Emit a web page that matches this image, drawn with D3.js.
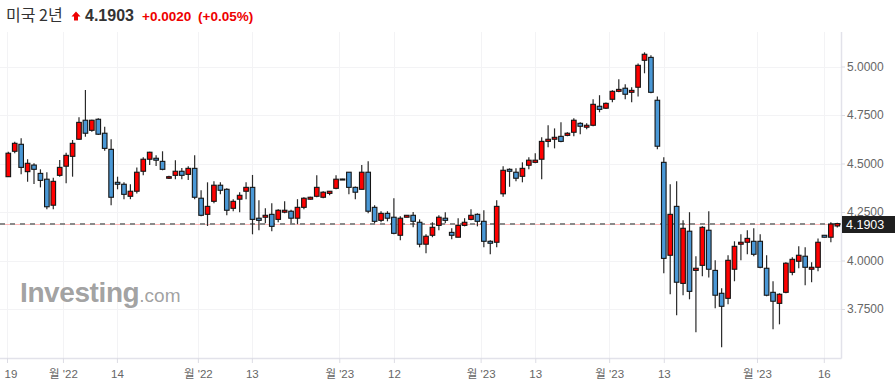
<!DOCTYPE html>
<html>
<head>
<meta charset="utf-8">
<script src="https://cdn.jsdelivr.net/npm/d3@7/dist/d3.min.js"></script>
<style>
  html, body { margin: 0; padding: 0; background: #fff; }
  svg { display: block; }
</style>
</head>
<body>
<div id="chart"></div>
<script>
// ---- data ----
const title = "미국 2년";
const lastPrice = 4.1903;
const changeText = "+0.0020";
const changePctText = "(+0.05%)";

const open = [4.432,4.563,4.599,4.458,4.492,4.449,4.419,4.285,4.439,4.486,
4.537,4.625,4.723,4.671,4.728,4.656,4.573,4.403,4.393,4.331,
4.357,4.460,4.522,4.527,4.511,4.424,4.439,4.460,4.444,4.475,
4.321,4.238,4.305,4.388,4.367,4.269,4.316,4.357,4.377,4.218,
4.223,4.238,4.212,4.249,4.254,4.218,4.274,4.316,4.331,4.326,
4.346,4.372,4.418,4.455,4.377,4.367,4.455,4.274,4.207,4.243,
4.223,4.130,4.223,4.233,4.197,4.084,4.130,4.181,4.218,4.145,
4.120,4.181,4.212,4.238,4.202,4.099,4.094,4.344,4.470,4.455,
4.434,4.491,4.506,4.522,4.614,4.625,4.640,4.645,4.661,4.707,
4.687,4.697,4.795,4.785,4.831,4.872,4.888,4.867,4.893,5.032,
5.047,4.826,4.506,4.027,4.279,3.882,4.151,3.949,3.975,4.156,
3.949,3.831,3.805,3.955,4.084,4.094,4.099,4.099,3.960,3.836,
3.779,3.836,3.939,3.996,4.022,3.955,3.965,4.130,4.120,4.178];

const high = [4.561,4.612,4.630,4.522,4.501,4.470,4.455,4.427,4.518,4.556,
4.621,4.738,4.879,4.726,4.733,4.690,4.625,4.432,4.403,4.393,
4.480,4.532,4.561,4.542,4.563,4.437,4.517,4.477,4.486,4.542,
4.362,4.403,4.408,4.403,4.372,4.316,4.352,4.403,4.441,4.310,
4.269,4.295,4.264,4.305,4.262,4.316,4.326,4.328,4.439,4.357,
4.358,4.439,4.421,4.455,4.382,4.492,4.511,4.285,4.254,4.254,
4.321,4.228,4.233,4.250,4.212,4.135,4.197,4.233,4.249,4.166,
4.218,4.218,4.264,4.243,4.259,4.104,4.310,4.486,4.475,4.475,
4.506,4.532,4.553,4.635,4.697,4.681,4.712,4.661,4.733,4.712,
4.707,4.831,4.852,4.814,4.877,4.934,4.908,4.893,5.016,5.073,
5.058,4.846,4.532,4.393,4.408,4.207,4.249,4.022,4.176,4.254,
4.001,3.857,4.027,4.099,4.135,4.156,4.166,4.135,4.027,3.893,
3.831,3.991,4.017,4.073,4.068,3.991,4.114,4.131,4.197,4.195];

const low = [4.430,4.553,4.444,4.406,4.394,4.377,4.264,4.264,4.432,4.398,
4.432,4.622,4.638,4.664,4.647,4.566,4.285,4.367,4.316,4.316,
4.346,4.439,4.492,4.487,4.465,4.420,4.419,4.419,4.415,4.316,
4.228,4.178,4.295,4.341,4.233,4.254,4.249,4.316,4.135,4.156,
4.192,4.151,4.197,4.243,4.192,4.187,4.264,4.315,4.326,4.321,
4.336,4.367,4.417,4.341,4.316,4.367,4.243,4.192,4.197,4.202,
4.135,4.104,4.223,4.171,4.068,4.037,4.120,4.156,4.192,4.109,
4.120,4.176,4.207,4.176,4.068,4.032,4.068,4.329,4.380,4.408,
4.403,4.470,4.501,4.419,4.584,4.578,4.609,4.640,4.640,4.651,
4.676,4.692,4.764,4.781,4.816,4.867,4.831,4.816,4.846,4.965,
4.862,4.573,3.934,3.826,3.718,3.821,3.800,3.630,3.919,3.913,
3.754,3.553,3.774,3.893,4.001,4.032,4.022,3.960,3.816,3.645,
3.671,3.831,3.924,3.960,3.872,3.888,3.944,4.119,4.094,4.170];

const close = [4.553,4.604,4.480,4.501,4.470,4.413,4.277,4.408,4.480,4.542,
4.604,4.712,4.656,4.723,4.651,4.578,4.326,4.393,4.341,4.357,
4.455,4.522,4.558,4.517,4.470,4.432,4.460,4.439,4.475,4.326,
4.233,4.279,4.388,4.362,4.259,4.305,4.336,4.377,4.212,4.207,
4.233,4.176,4.259,4.259,4.218,4.274,4.321,4.326,4.377,4.352,
4.357,4.419,4.420,4.377,4.352,4.455,4.254,4.202,4.243,4.218,
4.140,4.218,4.233,4.202,4.084,4.125,4.171,4.223,4.207,4.130,
4.181,4.197,4.233,4.202,4.099,4.089,4.279,4.465,4.460,4.424,
4.475,4.517,4.517,4.614,4.625,4.635,4.614,4.656,4.723,4.692,
4.697,4.805,4.779,4.810,4.872,4.882,4.857,4.877,5.006,5.063,
4.867,4.589,4.011,4.238,3.888,4.166,3.841,3.960,4.171,3.955,
3.821,3.764,4.001,4.073,4.094,4.114,4.032,3.965,3.821,3.790,
3.826,3.986,4.006,4.027,3.965,3.965,4.094,4.120,4.188,4.1903];

// x-axis ticks: candle index where each tick sits, and its label
const xTickIndex = [-0.2, 8.5, 16.9, 29.5, 37.9, 51.5, 60, 73.5, 82, 93.5, 102, 116.5, 126.9];
const xTickLabels = ["19", "월 '22", "14", "월 '22", "13", "월 '23", "12", "월 '23", "13", "월 '23", "13", "월 '23", "16"];
// y-axis ticks
const yTicks = [3.75, 4.0, 4.25, 4.5, 4.75, 5.0];

// ---- layout ----
const W = 895, H = 388;
const plotLeft = 0, plotRight = 841, plotTop = 32, plotBottom = 358;
const UP = "#ff0000", DOWN = "#4a98d6";
const FONT = "'Liberation Sans', Arial, 'Noto Sans CJK KR', sans-serif";

const candles = open.map((o, i) => ({ i, o, h: high[i], l: low[i], c: close[i] }));

const x = d3.scaleLinear().domain([0, candles.length - 1]).range([8.3, 837.3]);
const y = d3.scaleLinear().domain([3.75, 5.0]).range([309, 66.5]);

const svg = d3.select("#chart").append("svg").attr("width", W).attr("height", H)
  .style("font-family", FONT);

// grid
const grid = svg.append("g");
grid.selectAll("line.h").data(yTicks).join("line")
  .attr("x1", plotLeft).attr("x2", plotRight)
  .attr("y1", d => Math.round(y(d)) + 0.5).attr("y2", d => Math.round(y(d)) + 0.5)
  .attr("stroke", "#f3f3f5").attr("stroke-width", 1);
grid.selectAll("line.v").data(xTickIndex).join("line")
  .attr("x1", d => Math.round(x(d)) + 0.5).attr("x2", d => Math.round(x(d)) + 0.5)
  .attr("y1", plotTop).attr("y2", plotBottom)
  .attr("stroke", "#f3f3f5").attr("stroke-width", 1);

// watermark
const wm = svg.append("text").attr("x", 20).attr("y", 302)
  .style("font-family", "'Liberation Sans', Arial, sans-serif")
  .attr("fill", "#969696").attr("fill-opacity", 0.9);
wm.append("tspan").text("Investing").attr("font-size", 28).attr("font-weight", "bold")
  .attr("letter-spacing", "-0.4");
wm.append("tspan").text(".com").attr("font-size", 19).attr("font-weight", "normal");

// axes lines
svg.append("line").attr("x1", plotLeft).attr("x2", plotRight + 0.5)
  .attr("y1", plotBottom + 0.5).attr("y2", plotBottom + 0.5)
  .attr("stroke", "#e2e2ea").attr("stroke-width", 1.5);
svg.append("line").attr("x1", plotRight + 0.5).attr("x2", plotRight + 0.5)
  .attr("y1", plotTop).attr("y2", plotBottom + 0.5)
  .attr("stroke", "#e2e2ea").attr("stroke-width", 1.5);

// x axis
const xAxis = svg.append("g").attr("transform", `translate(0,${plotBottom})`)
  .call(d3.axisBottom(x).tickValues(xTickIndex).tickSize(5).tickPadding(7)
    .tickFormat((d, i) => xTickLabels[i]));
xAxis.select(".domain").remove();
xAxis.selectAll(".tick line").attr("stroke", "#dcdce4");
xAxis.selectAll(".tick text").attr("fill", "#666").attr("font-size", 11.5)
  .style("font-family", FONT);
xAxis.selectAll(".tick text").filter((d, i) => i === 0).attr("x", 3.5);

// y axis
const yAxis = svg.append("g").attr("transform", `translate(${plotRight},0)`)
  .call(d3.axisRight(y).tickValues(yTicks).tickSize(4).tickPadding(2)
    .tickFormat(d3.format(".4f")));
yAxis.select(".domain").remove();
yAxis.selectAll(".tick line").attr("stroke", "#dcdce4");
yAxis.selectAll(".tick text").attr("fill", "#666").attr("font-size", 12)
  .style("font-family", FONT);

// current price line
const py = Math.round(y(lastPrice)) + 0.5;
svg.append("line").attr("x1", plotLeft).attr("x2", plotRight)
  .attr("y1", py).attr("y2", py)
  .attr("stroke", "#ff9a9a").attr("stroke-opacity", 0.7).attr("stroke-width", 1);
svg.append("line").attr("x1", plotLeft).attr("x2", plotRight)
  .attr("y1", py - 0.5).attr("y2", py - 0.5)
  .attr("stroke", "#8a8a8a").attr("stroke-width", 2).attr("stroke-dasharray", "5,5");

// candles
const cg = svg.append("g");
const bw = 4.6;
cg.selectAll("line.wick").data(candles).join("line")
  .attr("x1", d => x(d.i)).attr("x2", d => x(d.i))
  .attr("y1", d => y(d.h)).attr("y2", d => y(d.l))
  .attr("stroke", "#2a2a2a").attr("stroke-width", 1.2);
cg.selectAll("rect.body").data(candles).join("rect")
  .attr("x", d => x(d.i) - bw / 2)
  .attr("y", d => y(Math.max(d.o, d.c)))
  .attr("width", bw)
  .attr("height", d => Math.max(1, Math.abs(y(d.o) - y(d.c))))
  .attr("fill", d => d.c >= d.o ? UP : DOWN)
  .attr("stroke", "#151515").attr("stroke-width", 1.1);

// price label
svg.append("rect").attr("x", 842).attr("y", py - 8.5).attr("width", 53).attr("height", 17)
  .attr("fill", "#1f1f1f");
svg.append("text").attr("x", 846).attr("y", py + 4.3).text(d3.format(".4f")(lastPrice))
  .attr("fill", "#fff").attr("font-size", 12.5);

// header
svg.append("text").attr("x", 6).attr("y", 21).text(title)
  .attr("font-size", 16).attr("fill", "#333")
  .style("font-family", "'Noto Sans CJK KR', sans-serif");
svg.append("path")
  .attr("d", "M76,11.5 L80.5,16.5 L78,16.5 L78,20.5 L74,20.5 L74,16.5 L71.5,16.5 Z")
  .attr("fill", "#ee0000");
svg.append("text").attr("x", 85).attr("y", 21).text(d3.format(".4f")(lastPrice))
  .attr("font-size", 16).attr("font-weight", "bold").attr("fill", "#333");
svg.append("text").attr("x", 142).attr("y", 21).text(changeText)
  .attr("font-size", 13.5).attr("font-weight", "bold").attr("fill", "#ee0000");
svg.append("text").attr("x", 198).attr("y", 21).text(changePctText)
  .attr("font-size", 13.5).attr("font-weight", "bold").attr("fill", "#ee0000");
</script>
</body>
</html>
